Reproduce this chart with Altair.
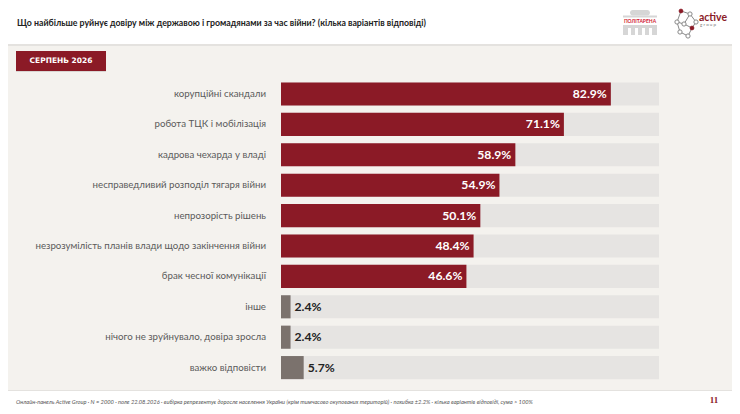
import altair as alt
import pandas as pd

categories = [
    "корупційні скандали",
    "робота ТЦК і мобілізація",
    "кадрова чехарда у владі",
    "несправедливий розподіл тягаря війни",
    "непрозорість рішень",
    "незрозумілість планів влади щодо закінчення війни",
    "брак чесної комунікації",
    "інше",
    "нічого не зруйнувало, довіра зросла",
    "важко відповісти",
]
values = [82.9, 71.1, 58.9, 54.9, 50.1, 48.4, 46.6, 2.4, 2.4, 5.7]
groups = ["main"] * 7 + ["other"] * 3

title_text = "Що найбільше руйнує довіру між державою і громадянами за час війни? (кілька варіантів відповіді)"
badge_text = "СЕРПЕНЬ 2026"
footer_text = ("Онлайн-панель Active Group · N = 2000 · поле 22.08.2026 · вибірка репрезентує доросле населення України "
               "(крім тимчасово окупованих територій) · похибка ±2.2% · кілька варіантів відповіді, сума > 100%")
page_no = "11"

RED = "#8b1a26"
GREY = "#7b726d"
TRACK = "#e6e4e2"
BG = "#f4f2ee"

df = pd.DataFrame({"label": categories, "value": values, "group": groups})
df["txt"] = df["value"].map(lambda v: f"{v:.1f}%")

W, H = 378, 304
X0, Y0 = 281, 78.8  # reference position of plot origin

def px(x):
    return x - X0

def py(y):
    return y - Y0

one = pd.DataFrame({"a": [0]})
base = alt.Chart(df)

yenc = alt.Y("label:N", sort=categories, axis=None,
             scale=alt.Scale(paddingInner=0.24, paddingOuter=0.12))
xscale = alt.Scale(domain=[0, 95], nice=False, zero=True)

track = base.mark_bar(color=TRACK).encode(
    y=yenc, x=alt.value(0), x2=alt.value(W)
)
bars = base.mark_bar().encode(
    y=yenc,
    x=alt.X("value:Q", scale=xscale, axis=None),
    color=alt.Color("group:N", scale=alt.Scale(domain=["main", "other"], range=[RED, GREY]), legend=None),
)
cat_labels = base.mark_text(align="right", baseline="middle", font="Lato", fontSize=9.7,
                            color="#5a5a5a").encode(
    y=yenc, x=alt.value(-15), text="label:N"
)
in_labels = base.transform_filter(alt.datum.group == "main").mark_text(
    align="right", baseline="middle", dx=-4, font="Lato", fontSize=12.2, fontWeight="bold", color="white"
).encode(y=yenc, x=alt.X("value:Q", scale=xscale, axis=None), text="txt:N")
out_labels = base.transform_filter(alt.datum.group == "other").mark_text(
    align="left", baseline="middle", dx=4, font="Lato", fontSize=12.2, fontWeight="bold", color="#222222"
).encode(y=yenc, x=alt.X("value:Q", scale=xscale, axis=None), text="txt:N")

def rect(x1, y1, x2, y2, color, **kw):
    return alt.Chart(one).mark_rect(color=color, **kw).encode(
        x=alt.value(px(x1)), x2=alt.value(px(x2)), y=alt.value(py(y1)), y2=alt.value(py(y2))
    )

def text(x, y, s, **kw):
    return alt.Chart(one).mark_text(**kw).encode(
        x=alt.value(px(x)), y=alt.value(py(y)), text=alt.value(s)
    )

def line(x1, y1, x2, y2, color, width=1):
    return alt.Chart(one).mark_rule(color=color, strokeWidth=width).encode(
        x=alt.value(px(x1)), x2=alt.value(px(x2)), y=alt.value(py(y1)), y2=alt.value(py(y2))
    )

def dot(x, y, fill, stroke, size=18):
    return alt.Chart(one).mark_point(filled=False, fill=fill, stroke=stroke, strokeWidth=1,
                                     size=size, shape="circle", opacity=1).encode(
        x=alt.value(px(x)), y=alt.value(py(y))
    )

deco = [
    # header
    rect(0, 0, 740, 44, "white"),
    rect(0, 44, 740, 46, "#e4e2df"),
    text(17, 23, title_text, align="left", baseline="middle", font="Lato", fontSize=8.8,
         fontWeight="bold", color="#222222"),
    # politarena logo
    rect(630, 10, 650, 15.5, "#d6d6d6", cornerRadius=3),
    rect(623, 15.5, 657, 17.5, "#d6d6d6"),
    text(640, 21, "ПОЛІТАРЕНА", align="center", baseline="middle", font="Lato", fontSize=5,
         fontWeight="bold", color="#d0202f"),
    rect(623, 25, 657, 35, "#d6d6d6"),
    rect(628, 28, 631, 35, "white"),
    rect(635, 28, 638, 35, "white"),
    rect(642, 28, 645, 35, "white"),
    rect(649, 28, 652, 35, "white"),
    # active group logo
    line(681, 11, 690, 14, "#888"), line(690, 14, 696, 22, "#888"), line(677, 22, 681, 11, "#888"),
    line(677, 22, 684, 24, "#888"), line(684, 24, 690, 14, "#888"), line(684, 24, 692, 28, "#888"),
    line(677, 22, 680, 32, "#888"), line(680, 32, 688, 36, "#888"), line(688, 36, 692, 28, "#888"),
    line(696, 22, 692, 28, "#888"),
    dot(681, 11, RED, RED, 14), dot(690, 14, "white", "#888"), dot(677, 22, "white", "#888"),
    dot(684, 24, "white", "#888"), dot(696, 22, "white", "#888"), dot(692, 28, RED, RED, 14),
    dot(680, 32, "white", "#888"), dot(688, 36, "white", "#888"),
    text(699, 18, "active", align="left", baseline="middle", font="Lato", fontSize=10.5,
         fontWeight="bold", color=RED),
    text(700, 25, "g r o u p", align="left", baseline="middle", font="Lato", fontSize=4.5,
         color="#777"),
    # badge
    rect(16, 52, 106, 72, "#d9d6d2"),
    rect(16, 51, 106, 71, RED),
    text(61, 61.5, badge_text, align="center", baseline="middle", font="DejaVu Sans", fontSize=7.5,
         fontWeight="bold", color="white"),
    # footer
    rect(0, 391, 740, 414, "white"),
    rect(0, 390, 740, 391, "#e4e2df"),
    text(16, 402, footer_text, align="left", baseline="middle", font="Lato", fontSize=5.7,
         fontStyle="italic", color="#555555"),
    text(714, 400.5, page_no, align="center", baseline="middle", font="Liberation Serif", fontSize=9,
         fontWeight="bold", color=RED),
]

chart = alt.layer(*deco, track, bars, cat_labels, in_labels, out_labels).properties(
    width=W, height=H,
    autosize=alt.AutoSizeParams(type="none"),
    padding={"left": 273, "top": 70.8, "right": 73, "bottom": 22.8},
    background=BG,
).configure_view(stroke=None)

chart.save("out.html", embed_options={"renderer": "svg", "actions": False})
